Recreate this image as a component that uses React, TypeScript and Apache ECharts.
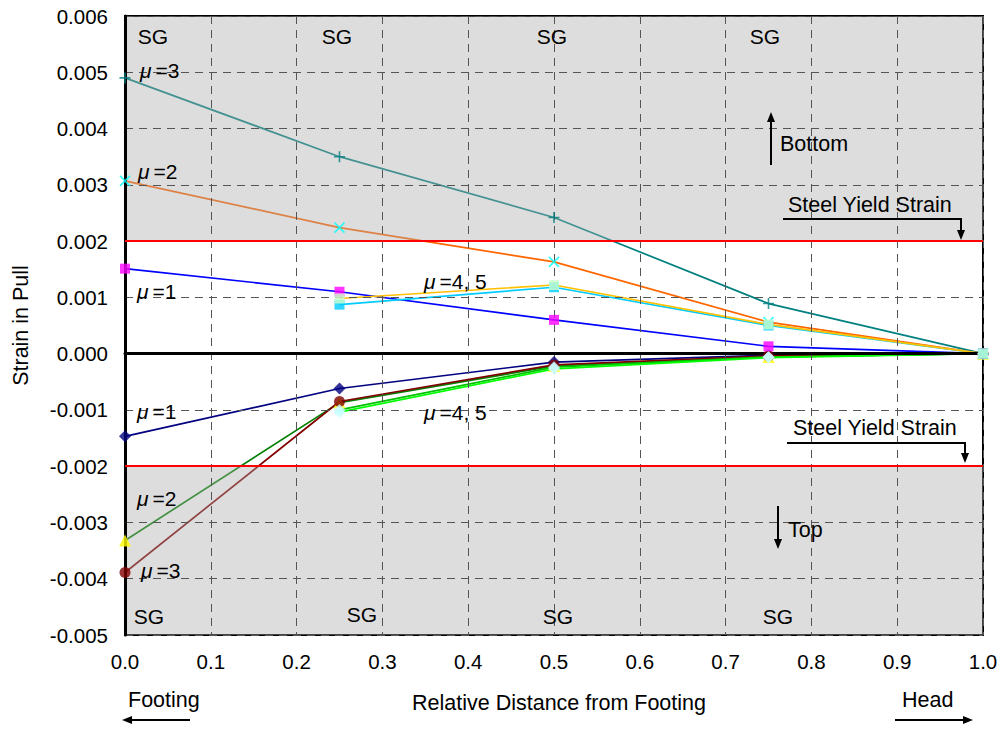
import React, { useEffect, useRef } from "react";
import * as echarts from "echarts";

// Relative distance of the strain gauges (SG) from the footing
const positions = [0, 0.25, 0.5, 0.75, 1.0];

// Pull side (bottom fibre) strains
const topMu1 = [0.00151, 0.0011, 0.0006, 0.00013, 0];
const topMu2 = [0.00307, 0.00224, 0.00163, 0.00056, 0];
const topMu3 = [0.0049, 0.0035, 0.00242, 0.00089, 0];
const topMu4 = [null, 0.00098, 0.00122, 0.00052, 0];
const topMu5 = [null, 0.00087, 0.00118, 0.0005, 0];

// Push side (top fibre) strains
const botMu1 = [-0.00147, -0.00062, -0.00015, -0.00003, 0];
const botMu2 = [-0.00332, -0.00087, -0.00022, -0.00006, 0];
const botMu3 = [-0.00389, -0.00085, -0.0002, -0.00004, 0];
const botMu4 = [null, -0.00104, -0.00027, -0.00007, 0];
const botMu5 = [null, -0.001, -0.00024, -0.00006, 0];

const yieldStrain = 0.002;
const yMin = -0.005;
const yMax = 0.006;

const FONT = '"Liberation Sans", Arial, sans-serif';

const PLUS = "path://M5,0L5,10M0,5L10,5";
const CROSS = "path://M0,0L10,10M10,0L0,10";

function pts(ys: (number | null)[]) {
  return positions
    .map((x, i) => (ys[i] == null ? null : [x, ys[i] as number]))
    .filter((p) => p !== null) as number[][];
}

type Spec = {
  name: string;
  values: (number | null)[];
  line: string;
  symbol: string;
  marker: string;
  size: number;
  stroke?: boolean;
};

// order = drawing order of the markers (later on top)
const specs: Spec[] = [
  { name: "Push μ=2", values: botMu2, line: "#008000", symbol: "triangle", marker: "#ffff00", size: 12 },
  { name: "Push μ=1", values: botMu1, line: "#000080", symbol: "diamond", marker: "#000080", size: 12 },
  { name: "Push μ=3", values: botMu3, line: "#800000", symbol: "circle", marker: "#800000", size: 11 },
  { name: "Push μ=5", values: botMu5, line: "#00c000", symbol: "diamond", marker: "#ccffff", size: 12 },
  { name: "Push μ=4", values: botMu4, line: "#00ff00", symbol: "diamond", marker: "#ccffff", size: 12 },
  { name: "Pull μ=1", values: topMu1, line: "#0000ff", symbol: "rect", marker: "#ff00ff", size: 10 },
  { name: "Pull μ=3", values: topMu3, line: "#008080", symbol: PLUS, marker: "#008080", size: 11, stroke: true },
  { name: "Pull μ=2", values: topMu2, line: "#ff6600", symbol: CROSS, marker: "#00ffff", size: 10, stroke: true },
  { name: "Pull μ=5", values: topMu5, line: "#00ccff", symbol: "rect", marker: "#00ccff", size: 10 },
  { name: "Pull μ=4", values: topMu4, line: "#ffc000", symbol: "rect", marker: "#ccffcc", size: 10 },
];

function txt(text: string, x: number, y: number, align = "left", size = 21.5) {
  return {
    type: "text",
    x,
    y,
    z: 100,
    style: {
      text,
      font: `${size}px ${FONT}`,
      fill: "#000",
      align,
      verticalAlign: "middle",
    },
  };
}

function mu(label: string, x: number, y: number) {
  return {
    type: "text",
    x,
    y,
    z: 100,
    style: {
      text: `{m|μ}{t|${label}}`,
      verticalAlign: "middle",
      align: "left",
      rich: {
        m: { fontFamily: FONT, fontSize: 21, fontStyle: "italic", fill: "#000", padding: [0, 4, 0, 0] },
        t: { fontFamily: FONT, fontSize: 21, fill: "#000" },
      },
    },
  };
}

function seg(points: number[][]) {
  return {
    type: "polyline",
    z: 100,
    shape: { points },
    style: { stroke: "#000", lineWidth: 2, fill: null },
  };
}

function head(points: number[][]) {
  return { type: "polygon", z: 100, shape: { points }, style: { fill: "#000" } };
}

export default function App() {
  const ref = useRef<HTMLDivElement>(null);

  useEffect(() => {
    if (!ref.current) return;
    const chart = echarts.init(ref.current, undefined, { renderer: "svg" });

    const lineSeries = specs.map((s, i) => ({
      type: "line",
      name: s.name,
      data: pts(s.values),
      symbol: "none",
      z: 2,
      lineStyle: { color: s.line, width: 1.7 },
      itemStyle: { color: s.line },
      ...(i === 0
        ? {
            markArea: {
              z: 3,
              silent: true,
              itemStyle: { color: "rgba(170,170,170,0.4)" },
              data: [
                [{ yAxis: yieldStrain }, { yAxis: yMax }],
                [{ yAxis: yMin }, { yAxis: -yieldStrain }],
              ],
            },
            markLine: {
              z: 7,
              silent: true,
              precision: 6,
              symbol: "none",
              label: { show: false },
              data: [
                { yAxis: 0, lineStyle: { color: "#000", width: 3, type: "solid" } },
                { yAxis: yieldStrain, lineStyle: { color: "#ff0000", width: 2, type: "solid" } },
                { yAxis: -yieldStrain, lineStyle: { color: "#ff0000", width: 2, type: "solid" } },
              ],
            },
          }
        : {}),
    }));

    const markerSeries = specs.map((s) => ({
      type: "scatter",
      name: s.name + " markers",
      data: pts(s.values),
      symbol: s.symbol,
      symbolSize: s.size,
      z: 8,
      itemStyle: s.stroke
        ? { color: "rgba(0,0,0,0)", borderColor: s.marker, borderWidth: 1.6 }
        : { color: s.marker },
    }));

    chart.setOption({
      animation: false,
      backgroundColor: "#fff",
      textStyle: { fontFamily: FONT },
      grid: {
        left: 125,
        right: 19,
        top: 16,
        bottom: 95,
        show: true,
        backgroundColor: "#fff",
        borderColor: "#000",
        borderWidth: 2,
      },
      xAxis: {
        type: "value",
        min: 0,
        max: 1,
        interval: 0.1,
        z: 6,
        name: "Relative Distance from Footing",
        nameLocation: "middle",
        nameGap: 57,
        nameTextStyle: { fontSize: 21.5, color: "#000", fontFamily: FONT, padding: [0, 0, 0, 10] },
        axisLine: { lineStyle: { color: "#000", width: 3 } },
        axisTick: { show: false },
        axisLabel: {
          fontSize: 20.5,
          color: "#000",
          fontFamily: FONT,
          margin: 16,
          formatter: (v: number) => v.toFixed(1),
        },
        splitLine: { show: true, lineStyle: { color: "#555", width: 1, type: [8, 6] } },
      },
      yAxis: {
        type: "value",
        min: yMin,
        max: yMax,
        interval: 0.001,
        z: 6,
        name: "Strain in Pull",
        nameLocation: "middle",
        nameGap: 93,
        nameTextStyle: { fontSize: 21.5, color: "#000", fontFamily: FONT },
        axisLine: { show: true, lineStyle: { color: "#000", width: 3 } },
        axisTick: { show: false },
        axisLabel: {
          fontSize: 20.5,
          color: "#000",
          fontFamily: FONT,
          margin: 17,
          formatter: (v: number) => v.toFixed(3),
        },
        splitLine: { show: true, lineStyle: { color: "#555", width: 1, type: [8, 6] } },
      },
      series: [...lineSeries, ...markerSeries],
      graphic: [
        txt("SG", 153, 36, "center", 21),
        txt("SG", 337, 36, "center", 21),
        txt("SG", 552, 36, "center", 21),
        txt("SG", 765, 36, "center", 21),
        txt("SG", 149, 616, "center", 21),
        txt("SG", 362, 614, "center", 21),
        txt("SG", 558, 616, "center", 21),
        txt("SG", 778, 616, "center", 21),
        mu("=3", 140, 70),
        mu("=2", 138, 171),
        mu("=1", 137, 291),
        mu("=4, 5", 424, 281),
        mu("=1", 137, 411),
        mu("=4, 5", 424, 412),
        mu("=2", 137, 498),
        mu("=3", 141, 570),
        txt("Bottom", 780, 144),
        seg([[771, 165], [771, 119]]),
        head([[771, 112], [767, 122], [775, 122]]),
        txt("Top", 788, 530),
        seg([[778, 506], [778, 541]]),
        head([[778, 549], [774, 539], [782, 539]]),
        txt("Steel Yield Strain", 788, 205),
        seg([[783, 219], [961, 219], [961, 232]]),
        head([[961, 240], [957, 230], [965, 230]]),
        txt("Steel Yield Strain", 793, 428),
        seg([[787, 443], [965, 443], [965, 455]]),
        head([[965, 463], [961, 453], [969, 453]]),
        txt("Footing", 128, 700),
        seg([[190, 720], [130, 720]]),
        head([[122, 720], [132, 716], [132, 724]]),
        txt("Head", 902, 700),
        seg([[895, 720], [965, 720]]),
        head([[973, 720], [963, 716], [963, 724]]),
      ],
    });

    return () => chart.dispose();
  }, []);

  return (
    <div
      ref={ref}
      style={{ position: "absolute", left: 0, top: 0, width: 1002, height: 730 }}
    />
  );
}
